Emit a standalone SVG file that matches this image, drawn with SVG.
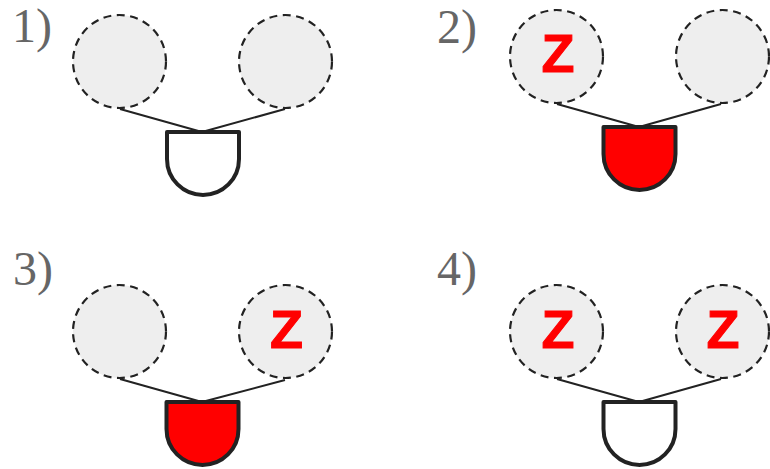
<svg xmlns="http://www.w3.org/2000/svg" width="770" height="469" viewBox="0 0 770 469">
<style>
.c{fill:#eee;stroke:#222;stroke-width:2.200;stroke-dasharray:8 5.500}
.g{stroke:#222;stroke-width:4;stroke-linejoin:round}
.w{fill:#fff}.r{fill:#f00}
.l{font-family:"Liberation Serif","DejaVu Serif",serif;font-size:48px;fill:#666}
.z{font-family:"Liberation Sans",Arial,sans-serif;font-size:54px;font-weight:700;fill:#f00;stroke:#f00;stroke-width:1;text-anchor:middle}
.e{stroke:#222;stroke-width:2;fill:none}
</style>
<defs>
<path id="gate" d="M-36 0H36V27A36 36 0 0 1 -36 27Z"/>
</defs>
<rect width="770" height="469" fill="#fff"/>
<g id="connectors">
<path class="e" d="M120 109L202 132M285 109L202 132"/>
<path class="e" d="M557 104L639 127M721 104L639 127"/>
<path class="e" d="M120 379L202 402M285 380L202 402"/>
<path class="e" d="M557 379L639 402M721 379L639 402"/>
</g>
<g id="panel1">
<text class="l" x="12" y="42">1)</text>
<g id="p1a"><circle class="c" cx="119.500" cy="61.500" r="46.500"/></g>
<g id="p1b"><circle class="c" cx="285.500" cy="61.500" r="46.500"/></g>
<g id="p1g"><use href="#gate" class="g w" x="203" y="132"/></g>
</g>
<g id="panel2">
<text class="l" x="437" y="43">2)</text>
<g id="p2a"><circle class="c" cx="556.500" cy="56.500" r="46.500"/><text class="z" x="558" y="72">Z</text></g>
<g id="p2b"><circle class="c" cx="722.500" cy="56.500" r="46.500"/></g>
<g id="p2g"><use href="#gate" class="g r" x="639.500" y="127"/></g>
</g>
<g id="panel3">
<text class="l" x="13" y="285">3)</text>
<g id="p3a"><circle class="c" cx="119.500" cy="331.500" r="46.500"/></g>
<g id="p3b"><circle class="c" cx="285.500" cy="331.500" r="46.500"/><text class="z" x="286.500" y="348">Z</text></g>
<g id="p3g"><use href="#gate" class="g r" x="202.500" y="402"/></g>
</g>
<g id="panel4">
<text class="l" x="437" y="285">4)</text>
<g id="p4a"><circle class="c" cx="556.500" cy="331.500" r="46.500"/><text class="z" x="558" y="348">Z</text></g>
<g id="p4b"><circle class="c" cx="722.500" cy="331.500" r="46.500"/><text class="z" x="723" y="348">Z</text></g>
<g id="p4g"><use href="#gate" class="g w" x="639.500" y="402"/></g>
</g>
</svg>
